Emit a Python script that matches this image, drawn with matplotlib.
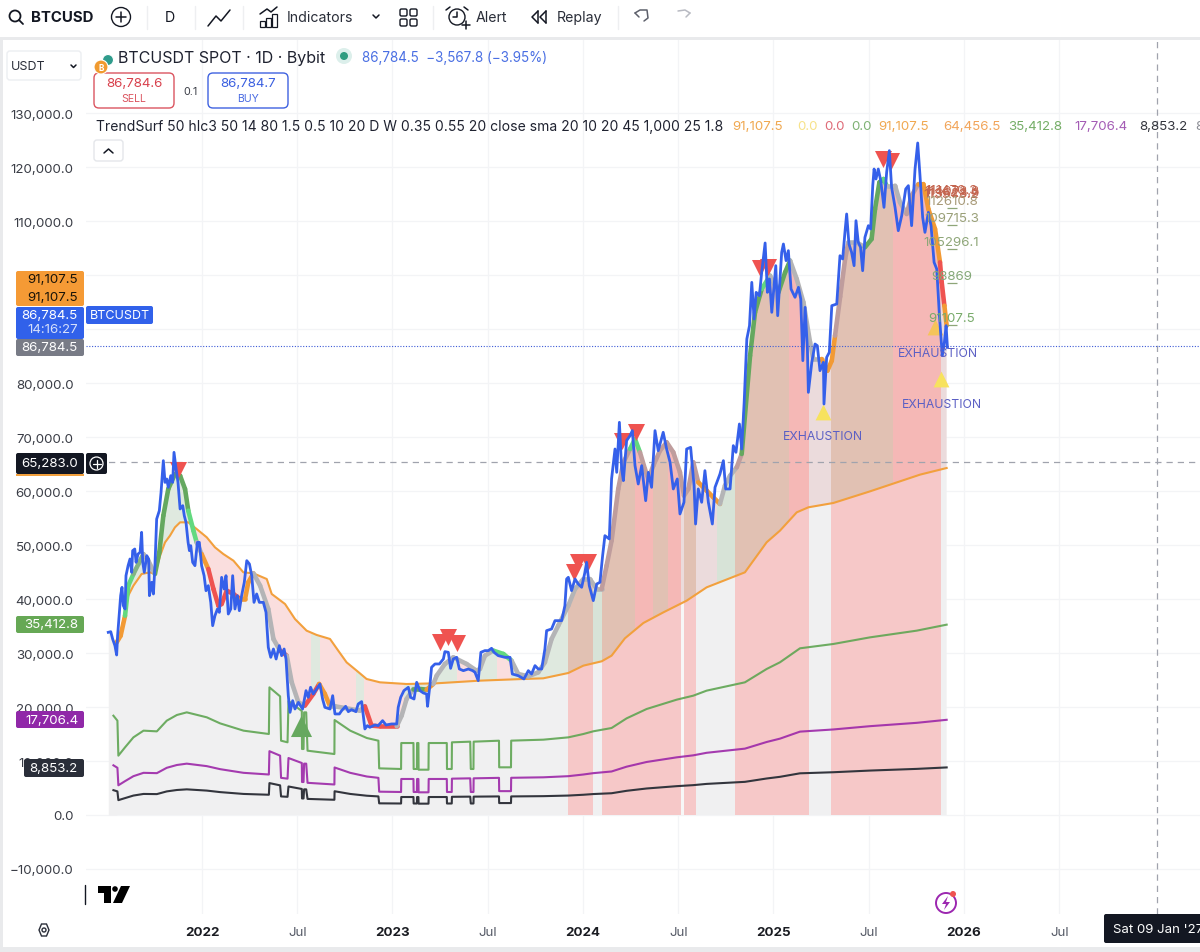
# -*- coding: utf-8 -*-

# Import required libraries
import matplotlib
matplotlib.use('Agg')
import matplotlib.pyplot as plt
from matplotlib.patches import FancyBboxPatch, Circle, Rectangle, Polygon
from matplotlib.path import Path
import numpy as np

plt.rcParams['font.family'] = ['Inter', 'DejaVu Sans']

# Price line, decimal years and USDT
price_x = [2021.508, .521, .531, .543, .552, .557, .566, .573, .580, .587, .596, .601, .612, .622, .631, .636, .647, .654, .664, .675,
           .683, .689, .697, .710, .720, .724, .736, .745, .753, .762, .776, .785, .797, .806, .815, .823, .836, .846, .853, .864,
           .874, .885, .899, .907, .916, .927, .934, .941, .951, .963, .976, .986, .998,
           2022.011, .021, .033, .046, .056, .068, .081, .091, .103, .116, .126, .138, .151, .161, .173, .186, .196, .208, .222,
           .235, .249, .261, .273, .287, .301, .322, .336, .348, .361, .375, .389, .406, .418, .431, .441, .453, .462, .476, .488, .506,
           .528, .546, .558, .570, .584, .602, .619, .633, .645, .672, .686, .698, .721, .733, .754, .768, .785, .808, .820, .838,
           .847, .855, .868, .881, .908, .925, .948, .966, .995,
           2023.022, .030, .043, .060, .083, .095, .113, .127, .144, .162, .179, .184, .197, .205, .223, .246, .267, .275, .293,
           .305, .319, .337, .351, .372, .398, .421, .433, .450, .464, .485, .503, .520, .533, .555, .590, .617, .629, .660, .690,
           .713, .730, .748, .765, .783, .800, .809, .835, .853, .888, .905, .914, .923, .940, .958, .975, .993,
           2024.010, .019, .033, .054, .072, .089, .103, .115, .138, .150, .168, .177, .191, .203, .212, .229, .247, .259, .273,
           .290, .308, .329, .343, .360, .378, .395, .421, .439, .457, .474, .495, .509, .530, .544, .565, .583, .591, .605, .623,
           .640, .658, .679, .693, .719, .737, .749, .772, .789, .803, .821, .833, .846, .860, .874, .886, .898, .909, .926, .938,
           .956, .968, .979, .991,
           2025.012, .022, .043, .052, .066, .078, .092, .113, .131, .143, .154, .166, .178, .183, .201, .218, .230, .244, .262,
           .265, .279, .293, .306, .332, .349, .363, .375, .384, .396, .410, .423, .433, .445, .457, .468, .480, .498, .510, .521,
           .528, .538, .550, .563, .580, .594, .608, .620, .638, .655, .673, .694, .708, .725, .743, .757, .769, .783, .795, .813,
           .827, .843, .857, .871, .886, .897, .906, .913]
price_y = [33830, 33950, 32590, 31360, 29630, 33210, 37530, 40620, 42160, 38770, 38150, 44320, 46170, 47410, 44940, 48950, 49260, 46790, 48330, 48640,
           52350, 46790, 44940, 48020, 47410, 40620, 43090, 40930, 46170, 54810, 56360, 59750, 65620, 61600, 62220, 60680, 62840, 61600, 67160, 64070,
           61600, 56670, 57290, 55430, 54200, 50490, 48950, 49880, 46790, 46170, 50490, 50490, 46170,
           44320, 41540, 42470, 39380, 35060, 36910, 38150, 37530, 44010, 41850, 44320, 37220, 38150, 44320, 38150, 40620, 37840, 40620, 43090,
           47100, 46480, 44320, 39380, 40930, 39380, 39380, 37530, 31050, 29200, 30740, 28890, 31360, 29510, 30740, 28890, 22100, 19010, 21170, 19630, 20860,
           19630, 23030, 21790, 23650, 22410, 23340, 24260, 21480, 19940, 19630, 22100, 18710, 18710, 19320, 20130, 19140, 19510, 19140, 20560, 21000,
           18400, 15930, 16550, 16240, 16670, 16550, 17470, 16670, 16860,
           16860, 19940, 21790, 23030, 23650, 21790, 21480, 24570, 23030, 22600, 22410, 20130, 24260, 27350, 27970, 27970, 28890, 30250, 30130,
           27160, 28890, 29200, 27040, 26730, 27040, 26730, 26420, 24880, 30130, 30440, 30440, 30870, 30130, 29510, 29200, 29200, 26110, 25800, 25190,
           26730, 26110, 27660, 27040, 27040, 30740, 34140, 34450, 35990, 35990, 38770, 43710, 44020, 41550, 43710, 42780, 42170,
           44940, 46790, 42470, 39700, 42780, 43090, 48030, 51730, 51120, 62230, 67780, 63460, 72720, 64080, 61920, 69330, 70250, 71180, 64700,
           61300, 64700, 58210, 63460, 60680, 71180, 67470, 70870, 67780, 65310, 60380, 62230, 55750, 57910, 67780, 68090, 60990, 53890, 60380, 57910,
           63770, 57910, 53890, 60680, 63150, 65620, 60380, 60380, 68400, 67170, 72410, 67780, 76420, 88150, 90620, 98640, 91850, 96790, 96170, 100500,
           105930, 96790, 99260, 93090,
           101730, 92470, 104200, 105740, 102660, 104510, 97410, 95870, 97720, 95560, 84140, 94010, 86300, 78270, 83830, 87220, 86910, 82290, 83830,
           76110, 84750, 85680, 94320, 94630, 103580, 102970, 107900, 111300, 105740, 104200, 101730, 110060, 106050, 105130, 100800, 106980, 109140, 108520, 116550,
           119630, 117780, 119630, 117470, 112530, 119020, 123030, 116240, 112530, 108210, 110990, 115930, 116550, 109140, 119630, 124450, 118400, 110680, 107900, 111610,
           109140, 102350, 101110, 92470, 85060, 87530, 90620, 86600]

# Slow orange line
slow_x = [2021.552, .573, .596, .613, .640, .683, .727, .753, .780, .806, .832, .858, .885, .928, .972,
          2022.025, .068, .112, .165, .217, .270, .340, .366, .436, .488, .549, .602, .672, .715, .759, .812, .864, .934,
          2023.074, .232, .459, .687, .791, .923,
          2024.002, .098, .150, .220, .317, .422, .544, .649, .850, .964,
          2025.034, .122, .183, .314, .507, .769, .909]
slow_y = [31670, 33830, 37530, 40620, 42470, 44630, 44940, 44630, 48020, 50490, 51730, 53270, 54200, 54200, 52960,
          51420, 49570, 48330, 47100, 44940, 44750, 43700, 40930, 39070, 36300, 34140, 33340, 32600, 30440, 28270, 26730, 25190, 24570,
          24260, 24390, 24880, 25190, 25310, 26300,
          27660, 28460, 29510, 32720, 35560, 37530, 39690, 42160, 44940, 50500,
          52660, 56050, 56980, 57780, 59940, 63030, 64260]

# Thick trend line
trend_x = [2021.552, .573, .596, .613, .640, .666, .692, .718, .753, .776, .797, .823, .858, .885, .911, .928, .955, .972, .998,
           2022.033, .060, .086, .103, .130, .165, .200, .226, .243, .270, .305, .348, .375, .410, .445, .471, .506,
           .540, .584, .615, .645, .672, .698, .829, .855, .890, .934,
           2023.022, .048, .074, .109, .144, .179, .214, .232, .275, .319, .389, .441, .459, .485, .529, .582, .625, .660, .713, .765, .800, .835, .870, .923, .958,
           2024.002, .036, .072, .098, .124, .150, .185, .212, .247, .273, .299, .325, .343, .369, .404, .439, .474, .509, .530, .553, .579, .605, .649, .684, .719, .745, .772, .807, .833, .877, .903, .938, .982,
           2025.026, .061, .087, .122, .157, .192, .209, .253, .283, .306, .323, .350, .376, .393, .436, .480, .515, .533, .556, .577, .594, .638, .664, .699, .725, .760, .787, .813, .848, .874, .883, .897, .909]
trend_y = [31970, 33210, 36910, 42470, 44630, 46480, 48330, 47100, 44630, 48640, 55430, 60370, 63150, 62840, 60370, 56360, 52650, 50490, 48330,
           45560, 41850, 38760, 39070, 41540, 40930, 40000, 40000, 43090, 44750, 42470, 38150, 32590, 30430, 29500, 24570, 20860,
           20250, 22410, 24260, 22410, 20130, 20130, 19320, 20130, 16550, 16420,
           16420, 18400, 21480, 23340, 23340, 23210, 24260, 25810, 27970, 29200, 27970, 26730, 27040, 29510, 30440, 29820, 28580, 26110, 25680, 26420, 28270, 32600, 35070, 38770, 41860,
           43710, 43710, 41860, 41860, 46180, 50810, 60370, 65310, 67780, 69630, 67170, 64080, 62230, 64700, 67470, 69020, 67170, 63460, 59140, 60380, 65310, 61610, 60070, 58830, 57600, 60990, 62840, 64390, 66860, 85060, 93090, 97410, 99880,
           96790, 100500, 102660, 99260, 94940, 87530, 84450, 84450, 82280, 84140, 88770, 96000, 103000, 106050, 106050, 105130, 106670, 112220, 117160, 117780, 116550, 116550, 113460, 111300, 114690, 116850, 116850, 112220, 108520, 102350, 98640, 94320, 90620]

# Regimes of the trend line: last year of each colour
trend_ends = [2021.596, .640, .700, .753, .928, .972, .998, 2022.033, .200, .270, .410, .445, .540, .615, .672, .855,
              2023.022, .109, .179, .214, .529, .625, 2024.098, .247, .299, .605, .719, .807, .833, .938, .982,
              2025.026, .087, .253, .323, .393, .480, .577, .594, .699, .760, .874, .897, .909]
trend_names = ['orange', 'lime', 'sage', 'gray', 'green', 'lime', 'gray', 'orange', 'red', 'orange', 'gray', 'red', 'gray', 'red', 'orange', 'gray',
               'red', 'gray', 'green', 'orange', 'gray', 'lime', 'gray', 'rose', 'lime', 'rose', 'orange', 'gray', 'rose', 'green', 'lime',
               'gray', 'green', 'gray', 'orange', 'rose', 'gray', 'green', 'lime', 'gray', 'rose', 'orange', 'red', 'orange']

# Stepped bands
band_x = [2021.535, .556, .561, .596, .640, .693, .763, .815, .868, .920,
          2022.025, .095, .218, .351, .354, .410, .415, .449, .454, .524, .525, .533, .536, .547, .554, .695, .696, .778, .865, .926, .930,
          2023.045, .046, .110, .111, .128, .129, .136, .137, .189, .190, .285, .286, .311, .312, .408, .411, .425, .426, .559, .560, .622, .623, .792, .923,
          2024.002, .054, .150, .229, .334, .492, .579, .649, .850, .964,
          2025.034, .139, .314, .507, .752, .909]
band_green = [18390, 17470, 10990, 12530, 14380, 15620, 15490, 17470, 18520, 19010,
              18090, 16970, 15620, 15000, 23640, 21970, 13760, 13460, 21100, 19260, 12220, 12220, 19010, 19010, 11910, 11290, 17590, 15620, 14260, 13760, 8640,
              8520, 13330, 13330, 8520, 8520, 13330, 13330, 8390, 8390, 13330, 13330, 8520, 8520, 13460, 13580, 8520, 8520, 13580, 13760, 8830, 8830, 13770, 13950, 14380,
              15000, 15500, 16110, 17900, 19630, 21360, 22100, 23030, 24570, 27040,
              28280, 30870, 31670, 32900, 34140, 35250]
band_purple = [9200, 8740, 5500, 6270, 7190, 7810, 7750, 8740, 9260, 9510,
               9050, 8490, 7810, 7500, 11820, 10990, 6880, 6730, 10550, 9630, 6110, 6110, 9510, 9510, 5960, 5650, 8800, 7810, 7130, 6880, 4320,
               4260, 6670, 6670, 4260, 4260, 6670, 6670, 4200, 4200, 6670, 6670, 4260, 4260, 6730, 6790, 4260, 4260, 6790, 6880, 4420, 4420, 6890, 6980, 7190,
               7500, 7750, 8060, 8950, 9820, 10680, 11050, 11520, 12290, 13520,
               14140, 15440, 15840, 16450, 17070, 17630]
band_black = [4600, 4370, 2750, 3130, 3600, 3900, 3870, 4370, 4630, 4750,
              4520, 4240, 3900, 3750, 5910, 5490, 3440, 3370, 5280, 4820, 3060, 3060, 4750, 4750, 2980, 2820, 4400, 3900, 3570, 3440, 2160,
              2130, 3330, 3330, 2130, 2130, 3330, 3330, 2100, 2100, 3330, 3330, 2130, 2130, 3370, 3400, 2130, 2130, 3400, 3440, 2210, 2210, 3440, 3490, 3600,
              3750, 3880, 4030, 4480, 4910, 5340, 5530, 5760, 6140, 6760,
              7070, 7720, 7920, 8230, 8540, 8810]

# Shaded regimes: region edges and colour names
lower_edges = [2021.552, 2023.921, 2024.052, .100, .514, .530, .593, .798, 2025.186, .302, .879, .911]
lower_names = ['gray', 'red', 'gray', 'red', 'white', 'red', 'gray', 'red', 'gray', 'red', 'gray']
upper_edges = [2021.552, .950, 2022.570, .620, .810, .850, 2023.060, .197, .339, .444, .460, .550, .620, .921,
               2024.052, .100, .273, .367, .446, .514, .530, .593, .703, .798, 2025.081, .186, .302, .627, .879, .911]
upper_names = ['green', 'pink', 'green', 'pink', 'green', 'pink', 'green', 'green', 'pink', 'green', 'green', 'pink', 'green',
               'tan', 'sage', 'tan', 'hot', 'tan', 'hot', 'rosegray', 'tan', 'rosegray', 'sage', 'tan', 'hot', 'rosegray', 'tan', 'hot', 'rosegray']

# Signal markers
sell_x = [2021.874, 2023.249, .291, .339, .953, .974, 2024.026, .205, .278, .929, .971, 2025.575, .617]
sell_y = [63890, 32040, 32960, 31850, 45000, 46850, 46850, 69260, 70930, 101300, 101480, 121480, 121110]
exhaust_x = [2025.260, .879]
exhaust_y = [74630, 80740]
fading_x = [2025.848]
fading_y = [90370]
buy_x = [2022.520]
buy_y = [16480]
exhaust_text_x = [2025.260, .864, .885]
exhaust_text_y = [70190, 85560, 76110]

# Level labels on the right of the last bar
level_labels = ['111470.3', '114073.8', '113628.9', '113943.2', '112610.8', '109715.3', '105296.1', '98869', '91107.5']
level_y = [115700, 115500, 115200, 115000, 113700, 110560, 106110, 99820, 92040]
level_colors = ['#c4654f', '#c4654f', '#c4654f', '#c4654f', '#a89a78', '#9aa078', '#8ea678', '#84a878', '#79ab6b']

# Axis labels, the ones behind the price tags are not visible in the picture
y_ticks = list(range(-10000, 130001, 10000))
hidden_ticks = [90000, 100000]
x_ticks = [2022, 2022.5, 2023, 2023.5, 2024, 2024.5, 2025, 2025.5, 2026, 2026.5]
x_labels = ['2022', 'Jul', '2023', 'Jul', '2024', 'Jul', '2025', 'Jul', '2026', 'Jul']

# Colours
trend_colors = {'orange': '#f29a35', 'lime': '#62d97f', 'sage': '#84b384', 'gray': '#b4b4b6',
                'green': '#64a85f', 'red': '#ef5350', 'rose': '#bf9d9d'}
lower_colors = {'gray': '#f0f0f1', 'red': '#f6c8c8', 'white': '#f7f7f7'}
upper_colors = {'green': '#dfe9df', 'pink': '#fadede', 'tan': '#e1c1b3', 'hot': '#f5b8b6',
                'sage': '#d7e3d7', 'rosegray': '#ebdbdc'}

W, H = 1200, 953


def expand(values):
    # Years are shortened to the fraction after the first entry of each year
    out = []
    year = 0
    for v in values:
        if v > 1:
            year = int(v)
            out.append(v)
        else:
            out.append(year + v)
    return out


price_x = expand(price_x)
slow_x = expand(slow_x)
trend_x = expand(trend_x)
band_x = expand(band_x)
trend_ends = expand(trend_ends)
lower_edges = expand(lower_edges)
upper_edges = expand(upper_edges)
sell_x = expand(sell_x)
exhaust_x = expand(exhaust_x)
exhaust_text_x = expand(exhaust_text_x)

fig = plt.figure(figsize=(W / 100, H / 100), dpi=100, facecolor='white')

# Chart area
x0, x1, y0, y1 = 86, 1200, 915, 40
ax = fig.add_axes([x0 / W, 1 - y0 / H, (x1 - x0) / W, (y0 - y1) / H])
ax.set_xlim(2022 + (x0 - 202) / 190.5, 2022 + (x1 - 202) / 190.5)
ax.set_ylim((816 - y0) * 185.19, (816 - y1) * 185.19)
for s in ax.spines.values():
    s.set_visible(False)
ax.set_yticks(y_ticks)
ax.set_yticklabels(['' if v in hidden_ticks else '%s.0' % format(v, ',').replace('-', '\u2212') for v in y_ticks])
ax.set_xticks(x_ticks)
ax.set_xticklabels(x_labels)
for lab, txt in zip(ax.get_xticklabels(), x_labels):
    lab.set_fontweight('bold' if txt != 'Jul' else 'normal')
    lab.set_color('#1a1c22' if txt != 'Jul' else '#555a66')
ax.tick_params(axis='y', length=0, pad=9, labelsize=9.6, labelcolor='#3a3d46')
ax.tick_params(axis='x', length=0, pad=9, labelsize=9.6)
ax.grid(True, color='#f3f4f6', linewidth=0.9)
ax.set_axisbelow(True)

# Shaded zones, cut to the polygons between the lines
lower_path = Path(np.vstack([np.c_[slow_x, slow_y], [slow_x[-1], 0], [slow_x[0], 0]]))
for a, b, name in zip(lower_edges[:-1], lower_edges[1:], lower_names):
    span = ax.axvspan(a, b, color=lower_colors[name], lw=0, zorder=1)
    span.set_clip_path(lower_path, ax.transData)
ax.fill_between(price_x[:5], price_y[:5], 0, color=lower_colors['gray'], lw=0, zorder=1)

upper_path = Path(np.vstack([np.c_[trend_x, trend_y], np.c_[slow_x[::-1], slow_y[::-1]]]))
for a, b, name in zip(upper_edges[:-1], upper_edges[1:], upper_names):
    span = ax.axvspan(a, b, color=upper_colors[name], lw=0, zorder=1)
    span.set_clip_path(upper_path, ax.transData)

# Bands
ax.plot(band_x, band_green, color='#5fa552', lw=1.5, alpha=0.9, zorder=3)
ax.plot(band_x, band_purple, color='#9c27a8', lw=1.5, alpha=0.9, zorder=3)
ax.plot(band_x, band_black, color='#33353d', lw=1.5, zorder=3)
ax.plot(slow_x, slow_y, color='#f2a03d', lw=1.5, zorder=3)

# Thick trend line, coloured by regime
for i in range(len(trend_x) - 1):
    mid = (trend_x[i] + trend_x[i + 1]) / 2
    k = min(np.searchsorted(trend_ends, mid), len(trend_names) - 1)
    ax.plot(trend_x[i:i + 2], trend_y[i:i + 2], color=trend_colors[trend_names[k]],
            lw=3.3, solid_capstyle='round', zorder=4)

# Markers
ax.scatter(sell_x, sell_y, marker='v', s=150, color='#ef5350', lw=0, zorder=5)
ax.scatter(exhaust_x, exhaust_y, marker='^', s=130, color='#f7e25e', lw=0, zorder=5)
ax.scatter(fading_x, fading_y, marker='^', s=130, color='#f5c45a', lw=0, zorder=5)
ax.scatter(buy_x, buy_y, marker='^', s=230, color='#66a85f', lw=0, zorder=5)

# Price
ax.plot(price_x, price_y, color='#3560ea', lw=2.0, solid_joinstyle='round', zorder=6)
ax.axhline(86784.5, color='#3d5bd6', lw=0.8, ls=(0, (1, 1.5)), zorder=6)
ax.axhline(65283, color='#a0a3ad', lw=0.9, ls=(0, (5, 4)), zorder=2.5)
ax.axvline(2027.013, color='#a0a3ad', lw=0.9, ls=(0, (5, 4)), zorder=2.5)

for tx, ty in zip(exhaust_text_x, exhaust_text_y):
    ax.text(tx, ty, 'EXHAUSTION', color='#5b5fc4', fontsize=8.8, ha='center', va='center', zorder=7)
for txt, ty, col in zip(level_labels, level_y, level_colors):
    ax.text(2025.935, ty, txt, color=col, fontsize=9.6, ha='center', va='center', zorder=7)
# Short bars under the labels, one per level
ax.plot([2025.935] * 5, [v - 1300 for v in level_y[4:]], ls='none', marker='_', ms=7, mew=0.9, color='#8ea678', zorder=7)

# Interface layer, in pixels
ui = fig.add_axes([0, 0, 1, 1], facecolor='none')
ui.set_xlim(0, W)
ui.set_ylim(H, 0)
ui.axis('off')


def box(x, y, w, h, face, edge='none', r=2, lw=1.0, z=2):
    p = FancyBboxPatch((x + r, y + r), w - 2 * r, h - 2 * r, boxstyle='round,pad=%s,rounding_size=%s' % (r, r),
                       fc=face, ec=edge, lw=lw, zorder=z)
    ui.add_patch(p)


def label(x, y, s, size=9.6, color='#131722', ha='left', weight='normal', z=5):
    ui.text(x, y, s, fontsize=size, color=color, ha=ha, va='center', fontweight=weight, zorder=z)


def line(xs, ys, color='#131722', lw=1.1):
    ui.plot(xs, ys, color=color, lw=lw, solid_capstyle='round', zorder=5)


# Frame
ui.add_patch(Rectangle((0, 38), W, 3, fc='#e9eaec', ec='none', zorder=1))
ui.add_patch(Rectangle((0, 38), 3, H - 38, fc='#e9eaec', ec='none', zorder=1))
ui.add_patch(Rectangle((0, 948), W, 5, fc='#e9eaec', ec='none', zorder=1))

# Top toolbar
ui.add_patch(Circle((15, 17), 5.5, fc='none', ec='#131722', lw=1.3, zorder=5))
line([19, 23], [21, 25], lw=1.3)
label(31, 18, 'BTCUSD', 10.8, weight='bold')
ui.add_patch(Circle((121, 18), 9.5, fc='none', ec='#131722', lw=1.0, zorder=5))
line([116, 126], [18, 18])
line([121, 121], [13, 23])
label(170, 18, 'D', 10.2, ha='center')
line([208, 216, 221, 230], [27, 17, 22, 11])
for sx in [147, 195, 243, 433, 618]:
    line([sx, sx], [7, 30], color='#eeeff1', lw=1.0)
for bx, bh in [(260, 6), (266, 9), (272, 13)]:
    ui.add_patch(Rectangle((bx, 28 - bh), 5, bh, fc='none', ec='#131722', lw=0.9, zorder=5))
line([260, 267, 271, 277], [15, 10, 13, 8])
label(287, 18, 'Indicators', 10.2, color='#2a2e39')
line([373, 376, 379], [16, 19, 16])
for gx, gy in [(400, 10), (410, 10), (400, 20), (410, 20)]:
    box(gx, gy, 7, 7, 'none', '#131722', r=1.5, z=5)
ui.add_patch(Circle((457, 18), 8, fc='none', ec='#131722', lw=1.0, zorder=5))
line([446, 450], [11, 8])
line([464, 468], [8, 11])
line([457, 457, 453], [13, 18, 18])
line([462, 470], [26, 26])
line([466, 466], [22, 30])
label(476, 18, 'Alert', 10.2, color='#2a2e39')
line([538, 532, 538], [12, 18, 24])
line([538, 538], [12, 24])
line([546, 540, 546], [12, 18, 24])
line([546, 546], [12, 24])
label(557, 18, 'Replay', 10.2, color='#2a2e39')
line([635, 640, 647, 648, 644], [14, 11, 11, 19, 22], color='#5d606b')
line([635, 639], [14, 18], color='#5d606b')
line([690, 685, 678], [14, 11, 12], color='#b8bac2')
line([690, 686], [14, 18], color='#b8bac2')

# Symbol row
box(7, 52, 74, 29, 'white', '#eceef1', r=3)
label(11, 67, 'USDT', 9.0, color='#2a2e39')
line([71, 73.5, 76], [66, 68.5, 66])
ui.add_patch(Circle((108, 61), 5.5, fc='#2f9c8c', ec='white', lw=0.8, zorder=5))
ui.add_patch(Circle((101, 68), 7, fc='#f09a2f', ec='white', lw=0.8, zorder=6))
ui.text(101, 68.5, 'B', fontsize=6, color='white', ha='center', va='center', fontweight='bold', zorder=7)
label(118, 58, 'BTCUSDT SPOT \u00b7 1D \u00b7 Bybit', 11.5, color='#1f2230')
ui.add_patch(Circle((344, 57), 8, fc='#dcefeb', ec='none', zorder=4))
ui.add_patch(Circle((344, 57), 4, fc='#2f9c80', ec='none', zorder=5))
label(362, 58, '86,784.5  \u22123,567.8 (\u22123.95%)', 9.7, color='#4a6fe3')

# Order buttons
box(94, 74, 80, 35, 'white', '#db5560', r=5, lw=1.0)
label(134, 84, '86,784.6', 9.6, '#d8404c', ha='center')
label(134, 99, 'SELL', 7.6, '#db5560', ha='center')
label(190, 92, '0.1', 7.8, '#3a3d46', ha='center')
box(208, 74, 80, 35, 'white', '#3f62e0', r=5, lw=1.0)
label(248, 84, '86,784.7', 9.6, '#3a5fe0', ha='center')
label(248, 99, 'BUY', 7.6, '#4a6be2', ha='center')

# Indicator row
row_y = 127
label(96, row_y, 'TrendSurf 50 hlc3 50 14 80 1.5 0.5 10 20 D W 0.35 0.55 20 close sma 20 10 20 45 1,000 25 1.8', 10.05, '#1f2230')
row_texts = ['91,107.5', '0.0', '0.0', '0.0', '91,107.5', '64,456.5', '35,412.8', '17,706.4', '8,853.2', '8']
row_x = [732, 797, 824, 851, 878, 943, 1008, 1074, 1139, 1195]
row_cols = ['#f0a850', '#f7e28a', '#df6b78', '#7fb274', '#f0a850', '#f2a55a', '#74ad66', '#a45cb5', '#33353d', '#8a8c94']
for rx, rt, rc in zip(row_x, row_texts, row_cols):
    label(rx, row_y, rt, 9.6, rc)
box(94, 141, 29, 21, 'white', '#e4e6ea', r=3)
line([104, 108.5, 113], [154, 150, 154])

# Price tags on the scale
box(16, 272, 68, 35, '#f59a35')
label(78, 280, '91,107.5', 9.6, '#1a1408', ha='right')
label(78, 298, '91,107.5', 9.6, '#1a1408', ha='right')
box(16, 308, 68, 32, '#3161ea')
label(78, 316, '86,784.5', 9.6, 'white', ha='right')
label(78, 330, '14:16:27', 9.6, '#d5dffb', ha='right')
box(86, 307, 67, 18, '#3161ea')
label(90, 316, 'BTCUSDT', 9.0, 'white')
box(16, 340, 68, 17, '#787b86')
label(78, 348.5, '86,784.5', 9.6, 'white', ha='right')
ui.add_patch(Rectangle((16, 475), 68, 2, fc='#f2a03d', ec='none', zorder=2))
box(16, 454, 68, 21, '#131722')
label(78, 464, '65,283.0', 9.6, 'white', ha='right')
box(86, 454, 21, 21, '#131722')
ui.add_patch(Circle((96.5, 464.5), 6.5, fc='none', ec='white', lw=0.9, zorder=5))
line([92.5, 100.5], [464.5, 464.5], color='white', lw=0.9)
line([96.5, 96.5], [460.5, 468.5], color='white', lw=0.9)
box(16, 617, 68, 17, '#66a855')
label(78, 625, '35,412.8', 9.6, 'white', ha='right')
box(16, 712, 68, 17, '#9028a8')
label(78, 721, '17,706.4', 9.6, 'white', ha='right')
box(24, 760, 60, 18, '#2a2e39')
label(78, 769, '8,853.2', 9.6, 'white', ha='right')

# Logo and bottom icons
line([85, 85], [886, 905], color='#131722', lw=1.0)
ui.add_patch(Polygon([(98, 887), (111, 887), (111, 904), (104, 904), (104, 894), (98, 894)], fc='#000000', ec='none', zorder=5))
ui.add_patch(Circle((115, 890), 2.8, fc='#000000', ec='none', zorder=5))
ui.add_patch(Polygon([(121, 887), (130, 887), (122, 904), (113, 904)], fc='#000000', ec='none', zorder=5))
ui.add_patch(Circle((946, 904), 10, fc='white', ec='#9c27b0', lw=1.4, zorder=5))
ui.add_patch(Polygon([(948, 897), (942, 905), (946, 905), (944, 911), (950, 903), (946, 903)], fc='#9c27b0', ec='none', zorder=6))
ui.add_patch(Circle((953, 895), 3, fc='#ef5350', ec='none', zorder=7))
ui.add_patch(Polygon([(39, 931), (41.5, 925), (46.5, 925), (49, 931), (46.5, 937), (41.5, 937)], fc='none', ec='#2a2e39', lw=1.0, zorder=5))
ui.add_patch(Circle((44, 931), 2, fc='none', ec='#2a2e39', lw=1.0, zorder=5))
box(1104, 915, 98, 29, '#131722', r=2)
label(1113, 930, "Sat 09 Jan '27", 9.5, 'white')

fig.savefig('out.png', dpi=100, facecolor='white')
